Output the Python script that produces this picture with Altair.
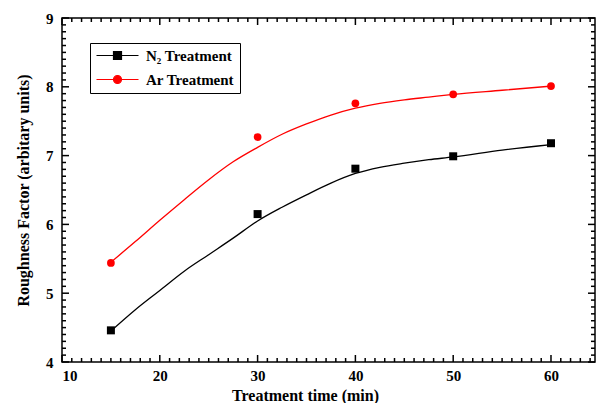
import altair as alt
import pandas as pd

# ---- data ----
times = [15, 30, 40, 50, 60]
n2_vals = [4.46, 6.15, 6.81, 6.99, 7.18]
ar_vals = [5.44, 7.27, 7.76, 7.89, 8.01]

fit_x = [15, 17.5, 20, 22.5, 25, 27.5, 30, 32.5, 35, 37.5, 40, 42.5, 45, 47.5, 50, 55, 60]
fit_n2 = [4.45, 4.76, 5.04, 5.32, 5.56, 5.80, 6.05, 6.25, 6.43, 6.60, 6.74, 6.83, 6.89, 6.94, 6.98, 7.08, 7.16]
fit_ar = [5.45, 5.75, 6.06, 6.36, 6.65, 6.91, 7.12, 7.31, 7.46, 7.59, 7.69, 7.76, 7.81, 7.85, 7.89, 7.95, 8.01]

series = ["N₂ Treatment", "Ar Treatment"]
colors = ["#000000", "#ff0000"]

x_major = [10, 20, 30, 40, 50, 60]
x_minor = [v for v in range(11, 65) if v % 10 != 0]
y_major = [4, 5, 6, 7, 8, 9]
y_minor = [round(4 + i * 0.1, 2) for i in range(1, 50) if i % 10 != 0]

pts = pd.DataFrame({
    "time": times + times,
    "value": n2_vals + ar_vals,
    "series": [series[0]] * len(times) + [series[1]] * len(times),
})
fit = pd.DataFrame({
    "time": fit_x + fit_x,
    "value": fit_n2 + fit_ar,
    "series": [series[0]] * len(fit_x) + [series[1]] * len(fit_x),
})

W, H = 533, 344
FONT = "Liberation Serif"
xs = alt.Scale(domain=[10, 64.5], nice=False, zero=False)
ys = alt.Scale(domain=[4, 9], nice=False, zero=False)

x_axis = alt.Axis(orient="bottom", values=x_major, format="d", ticks=False,
                  tickSize=0, domain=False, grid=False, labelPadding=6,
                  labelFont=FONT, labelFontWeight="bold", labelFontSize=15,
                  labelColor="#000000", title="Treatment time (min)",
                  titleFont=FONT, titleFontWeight="bold", titleFontSize=16,
                  titleColor="#000000", titlePadding=4, titleX=243)
y_axis = alt.Axis(orient="left", values=y_major, format="d", ticks=False,
                  tickSize=0, domain=False, grid=False, labelPadding=9,
                  labelFont=FONT, labelFontWeight="bold", labelFontSize=15,
                  labelColor="#000000", title="Roughness Factor (arbitary units)",
                  titleFont=FONT, titleFontWeight="bold", titleFontSize=16,
                  titleColor="#000000", titlePadding=14)

X = alt.X("time:Q", scale=xs, axis=x_axis)
Y = alt.Y("value:Q", scale=ys, axis=y_axis)

n2_fit = fit[fit.series == series[0]]
ar_fit = fit[fit.series == series[1]]
n2_pts = pts[pts.series == series[0]]
ar_pts = pts[pts.series == series[1]]

ar_line = alt.Chart(ar_fit).mark_line(color=colors[1], strokeWidth=1.3,
                                      interpolate="monotone").encode(x=X, y=Y)
n2_line = alt.Chart(n2_fit).mark_line(color=colors[0], strokeWidth=1.3,
                                      interpolate="monotone").encode(x=X, y=Y)
n2_mark = alt.Chart(n2_pts).mark_square(color=colors[0], size=64, opacity=1).encode(x=X, y=Y)
ar_mark = alt.Chart(ar_pts).mark_circle(color=colors[1], size=60, opacity=1).encode(x=X, y=Y)

tick_layers = []
for vals, length in ((x_major, 7), (x_minor, 4)):
    df = pd.DataFrame({"time": vals})
    for edge, inner in ((H, H - length), (0, length)):
        tick_layers.append(
            alt.Chart(df).mark_rule(color="#000000", strokeWidth=1.5).encode(
                x=X, y=alt.value(edge), y2=alt.value(inner)))
for vals, length in ((y_major, 7), (y_minor, 4)):
    df = pd.DataFrame({"value": vals})
    for edge, inner in ((0, length), (W, W - length)):
        tick_layers.append(
            alt.Chart(df).mark_rule(color="#000000", strokeWidth=1.5).encode(
                y=Y, x=alt.value(edge), x2=alt.value(inner)))

sym_square = "M-1.2,0H7.2M2.2,-0.8H3.8V0.8H2.2Z"
sym_circle = "M-1.2,0H7.2M2.2,0A0.8,0.8 0 1,0 3.8,0A0.8,0.8 0 1,0 2.2,0Z"

legend = alt.Legend(orient="none", legendX=28, legendY=25, title=None,
                    strokeColor="#000000", fillColor="#ffffff", padding=5,
                    labelFont=FONT, labelFontWeight="bold", labelFontSize=15,
                    labelColor="#000000", labelOffset=36, symbolSize=100,
                    symbolOpacity=1, symbolStrokeWidth=1.2, rowPadding=8)

legend_layer = alt.Chart(pts).mark_point(filled=True, opacity=0).encode(
    x=X, y=Y,
    color=alt.Color("series:N", scale=alt.Scale(domain=series, range=colors), legend=legend),
    stroke=alt.Stroke("series:N", scale=alt.Scale(domain=series, range=colors), legend=legend),
    shape=alt.Shape("series:N", scale=alt.Scale(domain=series, range=[sym_square, sym_circle]),
                    legend=legend),
)

chart = alt.layer(ar_line, n2_line, n2_mark, ar_mark, legend_layer, *tick_layers).properties(
    width=W, height=H,
    autosize=alt.AutoSizeParams(type="none"),
    padding={"left": 62, "top": 18, "right": 5, "bottom": 41},
    background="#ffffff",
).configure_view(stroke="#000000", strokeWidth=1.5)

chart.save("out.html", embed_options={"renderer": "svg", "actions": False})
